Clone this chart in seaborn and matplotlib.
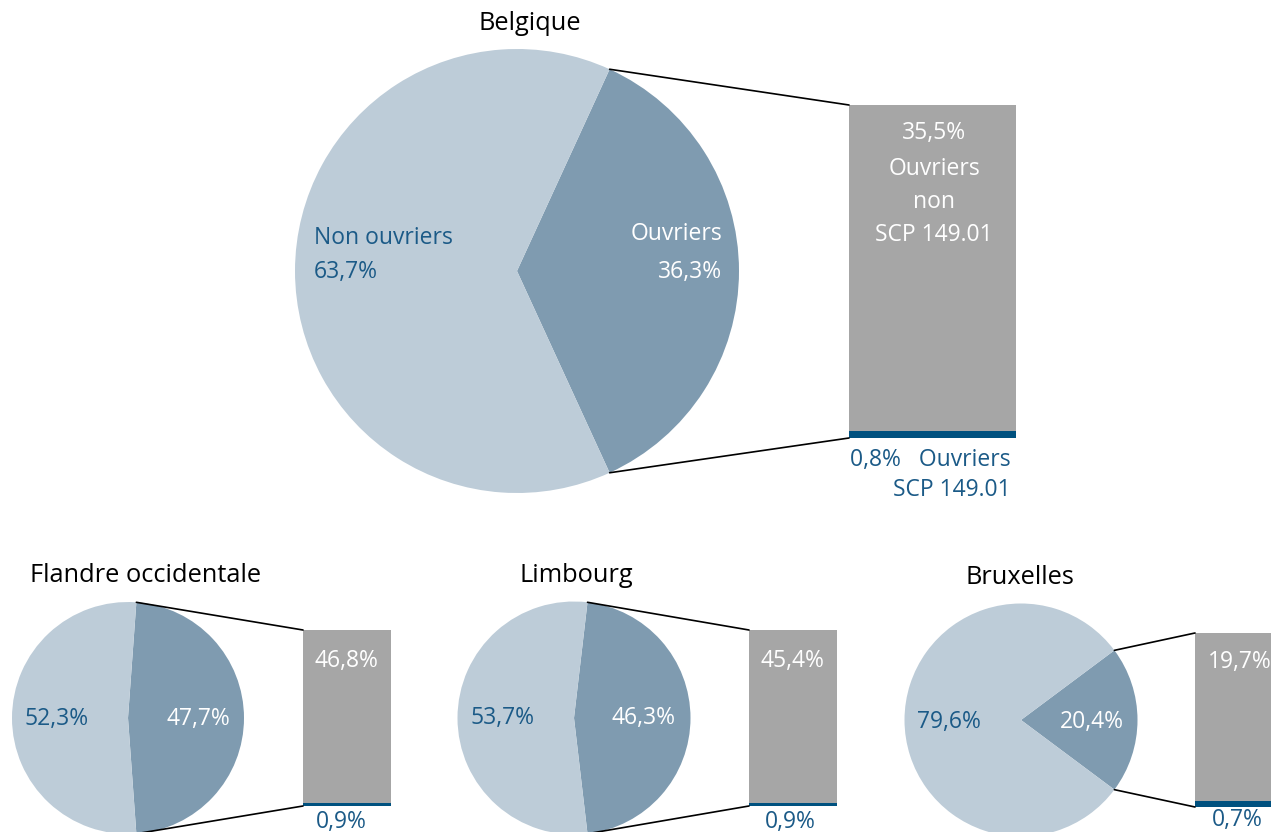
import numpy as np
import matplotlib
matplotlib.use("Agg")
import matplotlib.pyplot as plt
import seaborn as sns

# ---------------- data ----------------
regions = ["Belgique", "Flandre occidentale", "Limbourg", "Bruxelles"]
non_ouvriers = [63.7, 52.3, 53.7, 79.6]
ouvriers = [36.3, 47.7, 46.3, 20.4]
ouvriers_non_scp = [35.5, 46.8, 45.4, 19.7]
ouvriers_scp = [0.8, 0.9, 0.9, 0.7]

def fr(v):
    return f"{v:.1f}".replace(".", ",") + "%"

# ---------------- style ----------------
sns.set_theme(style="white")
plt.rcParams["font.family"] = ["Open Sans", "DejaVu Sans"]

C_LIGHT = "#BDCCD8"
C_DARK = "#7F9BB0"
C_GREY = "#A6A6A6"
C_BLUE = "#00517F"
C_TXT = "#1B5A87"

W, H = 1271, 832
fig = plt.figure(figsize=(W / 100, H / 100), dpi=100)
ax = fig.add_axes([0, 0, 1, 1])

def Y(y):
    return H - y

layouts = [
    dict(cx=517, cy=271, r=222, bx0=849, bx1=1016, btop=105, bbot=438, tx=530, ty=24),
    dict(cx=128, cy=718, r=116, bx0=303, bx1=391, btop=630, bbot=806, tx=146, ty=575),
    dict(cx=574, cy=718, r=116.5, bx0=749, bx1=837, btop=630, bbot=806, tx=576, ty=575),
    dict(cx=1021, cy=720, r=116.5, bx0=1195, bx1=1283, btop=633, bbot=807, tx=1020, ty=578),
]

FS = 16.5
FS_T = 18.3

for i, L in enumerate(layouts):
    ouv = ouvriers[i]
    non = non_ouvriers[i]
    half = ouv / 100 * 180
    ax.pie([ouv, non], colors=[C_DARK, C_LIGHT], startangle=-half,
           center=(L["cx"], Y(L["cy"])), radius=L["r"], counterclock=True,
           wedgeprops=dict(linewidth=0))
    bh = L["bbot"] - L["btop"]
    scale = bh / ouv
    bw = L["bx1"] - L["bx0"]
    ax.bar(L["bx0"], ouvriers_scp[i] * scale, width=bw, bottom=Y(L["bbot"]),
           align="edge", color=C_BLUE, linewidth=0)
    ax.bar(L["bx0"], ouvriers_non_scp[i] * scale, width=bw,
           bottom=Y(L["bbot"]) + ouvriers_scp[i] * scale,
           align="edge", color=C_GREY, linewidth=0)
    th = np.deg2rad(half)
    px = L["cx"] + L["r"] * np.cos(th)
    dy = L["r"] * np.sin(th)
    ax.plot([px, L["bx0"]], [Y(L["cy"]) + dy, Y(L["btop"])], color="black", lw=1.2)
    ax.plot([px, L["bx0"]], [Y(L["cy"]) - dy, Y(L["bbot"])], color="black", lw=1.2)
    ax.text(L["tx"], Y(L["ty"]), regions[i], ha="center", va="center",
            fontsize=FS_T, color="black")

# ---- Belgique labels ----
ax.text(314, Y(238), "Non ouvriers", ha="left", va="center", fontsize=FS, color=C_TXT)
ax.text(314, Y(272), fr(non_ouvriers[0]), ha="left", va="center", fontsize=FS, color=C_TXT)
ax.text(722, Y(234), "Ouvriers", ha="right", va="center", fontsize=FS, color="white")
ax.text(722, Y(272), fr(ouvriers[0]), ha="right", va="center", fontsize=FS, color="white")
for txt, yy in zip([fr(ouvriers_non_scp[0]), "Ouvriers", "non", "SCP 149.01"],
                   [133, 169, 202, 235]):
    ax.text(934, Y(yy), txt, ha="center", va="center", fontsize=FS, color="white")
ax.text(1011, Y(460), fr(ouvriers_scp[0]) + "   Ouvriers", ha="right", va="center",
        fontsize=FS, color=C_TXT)
ax.text(1011, Y(490), "SCP 149.01", ha="right", va="center", fontsize=FS, color=C_TXT)

# ---- small charts labels ----
small_pos = [
    dict(nx=57, ox=198, py=719, gx=346, gy=661, gha="center", sx=341, sy=828),
    dict(nx=503, ox=644, py=718, gx=792, gy=661, gha="center", sx=790, sy=828),
    dict(nx=949, ox=1092, py=722, gx=1208, gy=662, gha="left", sx=1237, sy=826),
]
for j, P in enumerate(small_pos):
    i = j + 1
    ax.text(P["nx"], Y(P["py"]), fr(non_ouvriers[i]), ha="center", va="center",
            fontsize=FS, color=C_TXT)
    ax.text(P["ox"], Y(P["py"]), fr(ouvriers[i]), ha="center", va="center",
            fontsize=FS, color="white")
    ax.text(P["gx"], Y(P["gy"]), fr(ouvriers_non_scp[i]), ha=P["gha"], va="center",
            fontsize=FS, color="white")
    ax.text(P["sx"], Y(P["sy"]), fr(ouvriers_scp[i]), ha="center", va="baseline",
            fontsize=FS, color=C_TXT)

ax.set_xlim(0, W)
ax.set_ylim(0, H)
ax.set_aspect("equal")
ax.axis("off")

fig.savefig("out.png", dpi=100, facecolor="white")
